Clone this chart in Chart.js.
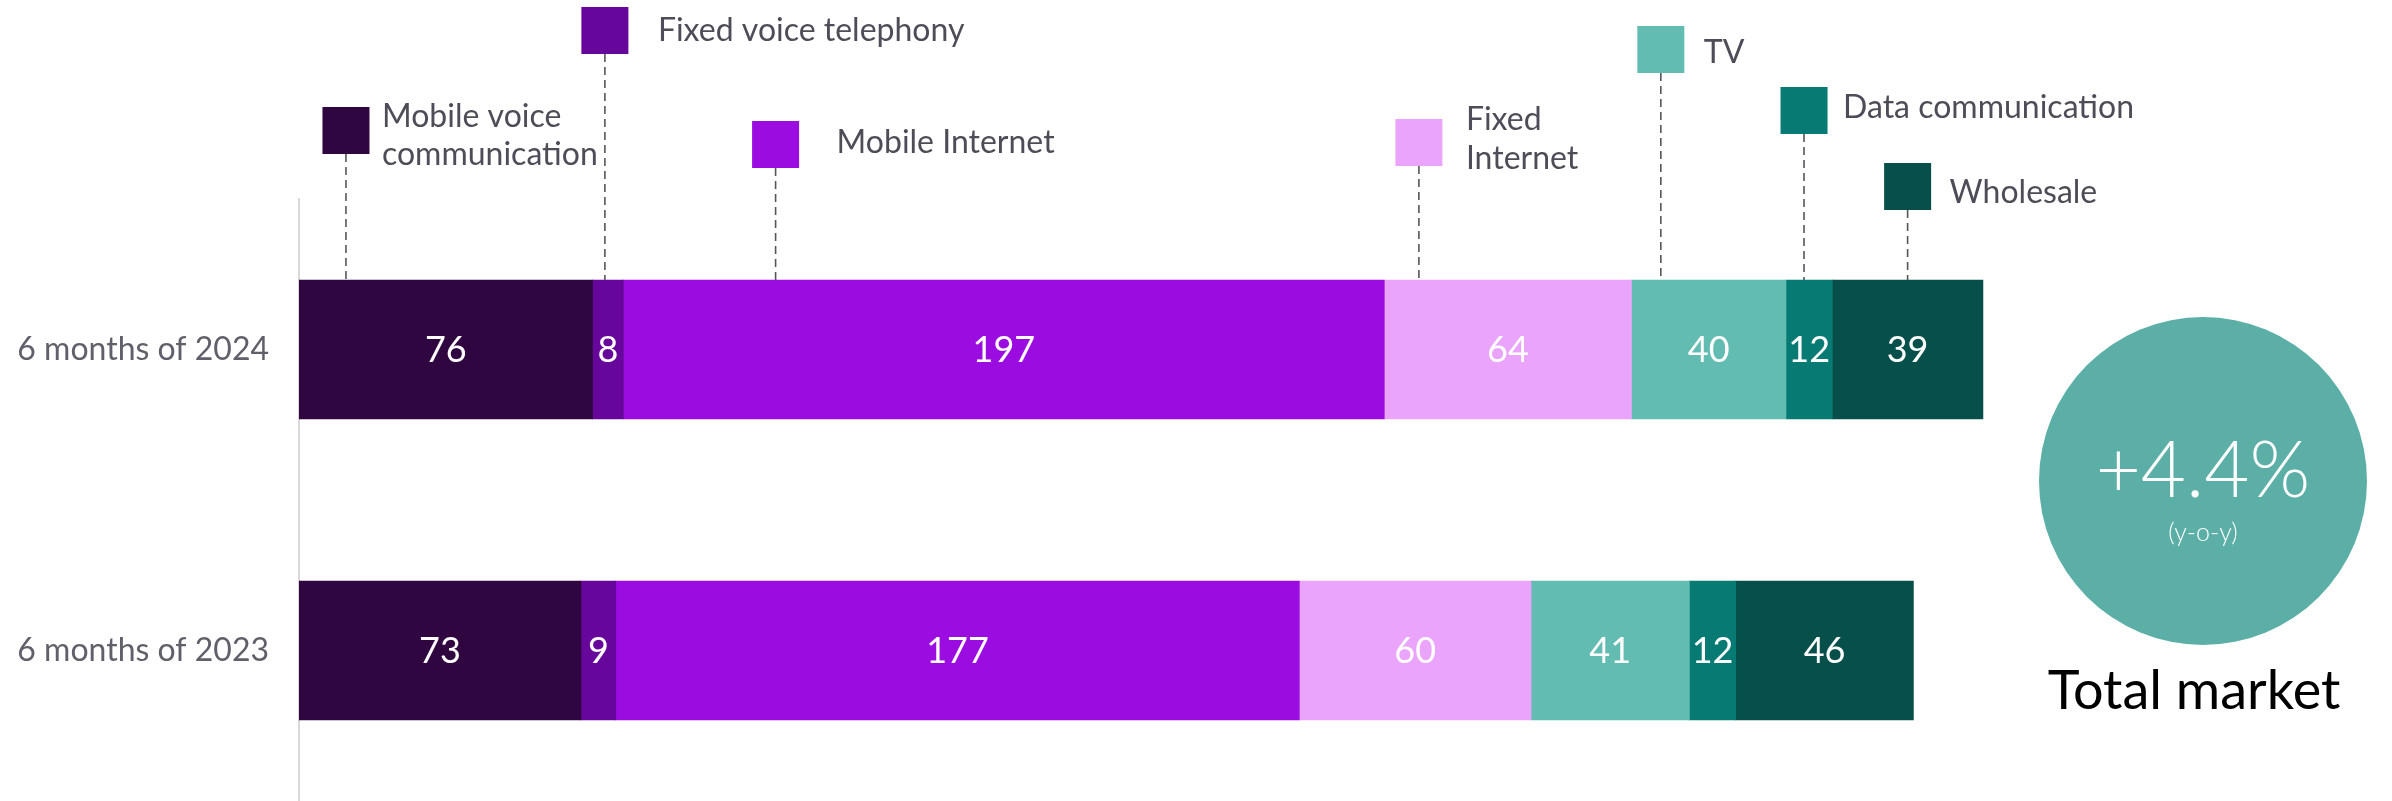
<!DOCTYPE html>
<html>
<head>
<meta charset="utf-8">
<script src="https://cdn.jsdelivr.net/npm/chart.js@4"></script>
<style>
  html, body { margin: 0; padding: 0; background: #ffffff; overflow: hidden; }
  canvas { display: block; }
</style>
</head>
<body>
<canvas id="marketChart" width="2392" height="801"></canvas>
<script>
// Data
const categories = ["6 months of 2024", "6 months of 2023"];
const seriesNames = [
  "Mobile voice\ncommunication",
  "Fixed voice telephony",
  "Mobile Internet",
  "Fixed\nInternet",
  "TV",
  "Data communication",
  "Wholesale",
];
const mobileVoice = [76, 73];
const fixedVoice = [8, 9];
const mobileInternet = [197, 177];
const fixedInternet = [64, 60];
const tv = [40, 41];
const dataComm = [12, 12];
const wholesale = [39, 46];
const growthLabel = "+4.4%";
const growthNote = "(y-o-y)";
const totalTitle = "Total market";

const seriesValues = [mobileVoice, fixedVoice, mobileInternet, fixedInternet, tv, dataComm, wholesale];
const seriesColors = ["#300641", "#66069a", "#9a0ce0", "#eba4fc", "#63bcb2", "#077a74", "#064f4a"];

const FONT = "Lato, 'Open Sans', sans-serif";

// legend callout layout (frac = where the leader line sits inside the 2024 segment)
const legendLayout = [
  { frac: 0.16, boxTop: 107, textDx: 36, lineY: [117, 155] },
  { frac: 0.40, boxTop: 7, textDx: 53, lineY: [31] },
  { frac: 0.20, boxTop: 121, textDx: 61, lineY: [143] },
  { frac: 0.14, boxTop: 119, textDx: 47, lineY: [120, 159] },
  { frac: 0.19, boxTop: 26, textDx: 43, lineY: [53] },
  { frac: 0.39, boxTop: 87, textDx: 39, lineY: [108] },
  { frac: 0.50, boxTop: 163, textDx: 42, lineY: [193] },
];

// values inside the bars
const valueLabels = {
  id: "valueLabels",
  afterDatasetsDraw(chart) {
    const ctx = chart.ctx;
    ctx.save();
    ctx.font = "36px " + FONT;
    ctx.fillStyle = "#ffffff";
    ctx.textAlign = "center";
    ctx.textBaseline = "middle";
    chart.data.datasets.forEach((ds, i) => {
      chart.getDatasetMeta(i).data.forEach((bar, j) => {
        const p = bar.getProps(["x", "y", "base"], true);
        ctx.fillText(String(ds.data[j]), (p.x + p.base) / 2, p.y + 1);
      });
    });
    ctx.restore();
  },
};

// callout legend + total market bubble
const callouts = {
  id: "callouts",
  afterDraw(chart) {
    const ctx = chart.ctx;
    ctx.save();
    legendLayout.forEach((lay, i) => {
      const bar = chart.getDatasetMeta(i).data[0];
      const p = bar.getProps(["x", "y", "base", "height"], true);
      const lx = p.base + (p.x - p.base) * lay.frac;
      const boxSize = 47;

      // leader line
      ctx.strokeStyle = "#55555c";
      ctx.lineWidth = 1.6;
      ctx.setLineDash([8, 5]);
      ctx.beginPath();
      ctx.moveTo(lx, lay.boxTop + boxSize);
      ctx.lineTo(lx, p.y - p.height / 2);
      ctx.stroke();
      ctx.setLineDash([]);

      // colour box
      ctx.fillStyle = seriesColors[i];
      ctx.fillRect(lx - boxSize / 2, lay.boxTop, boxSize, boxSize);

      // text
      ctx.fillStyle = "#4d4d57";
      ctx.font = "32px " + FONT;
      ctx.textAlign = "left";
      ctx.textBaseline = "middle";
      seriesNames[i].split("\n").forEach((line, k) => {
        ctx.fillText(line, lx + lay.textDx, lay.lineY[k]);
      });
    });

    // bubble
    const cx = 2203, cy = 481, r = 164;
    ctx.fillStyle = "#5bafa7";
    ctx.beginPath();
    ctx.arc(cx, cy, r, 0, Math.PI * 2);
    ctx.fill();
    ctx.fillStyle = "#ffffff";
    ctx.textAlign = "center";
    ctx.textBaseline = "alphabetic";
    ctx.font = "300 78px " + FONT;
    ctx.fillText(growthLabel, cx, 497);
    ctx.font = "300 25px " + FONT;
    ctx.fillText(growthNote, cx, 541);
    ctx.fillStyle = "#000000";
    ctx.font = "54px " + FONT;
    ctx.fillText(totalTitle, 2194, 709);
    ctx.restore();
  },
};

const datasets = seriesValues.map((vals, i) => ({
  label: seriesNames[i],
  data: vals,
  backgroundColor: seriesColors[i],
  borderWidth: 0,
  barThickness: 139,
}));

const marketChart = new Chart(document.getElementById("marketChart"), {
  type: "bar",
  data: { labels: categories, datasets: datasets },
  options: {
    indexAxis: "y",
    responsive: false,
    animation: false,
    layout: {
      padding: { top: 199, bottom: 0, left: 0, right: 355 },
    },
    scales: {
      x: {
        stacked: true,
        min: 0,
        max: 450,
        display: false,
      },
      y: {
        stacked: true,
        grid: { display: false, drawTicks: false },
        border: { display: true, color: "#d9d9d9", width: 2 },
        ticks: {
          color: "#60606a",
          padding: 30,
          font: { family: FONT, size: 32 },
        },
        afterFit(scale) {
          scale.width = 299; // keeps the bars starting at the same x as the reference
          // tick padding would otherwise shrink the plot area at the bottom
          scale.paddingTop = 0;
          scale.paddingBottom = 0;
        },
      },
    },
    plugins: {
      legend: { display: false },
      tooltip: { enabled: false },
    },
  },
  plugins: [valueLabels, callouts],
});
</script>
</body>
</html>
